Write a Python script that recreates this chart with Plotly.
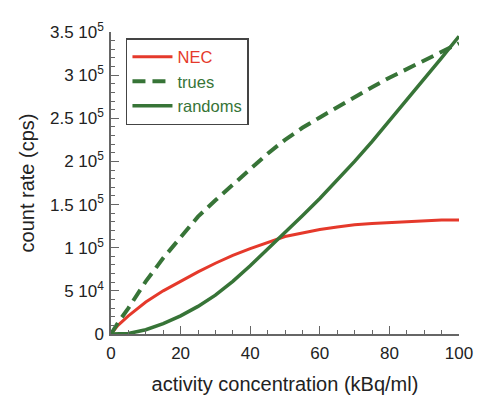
import plotly.graph_objects as go

# activity concentration (kBq/ml)
conc = [0, 2, 5, 10, 15, 20, 25, 30, 35, 40, 45, 50, 55, 60, 65, 70, 75, 80, 85, 90, 95, 100]

# count rates (cps)
nec = [0, 10000, 21000, 37000, 50000, 61000, 72000, 82000, 91000, 99000, 106000, 113000,
       117000, 121000, 124000, 126500, 128000, 129000, 130000, 131000, 132000, 132000]
trues = [0, 13000, 30000, 61000, 88000, 112000, 136000, 155000, 173000, 191000, 209000, 225000,
         239000, 251000, 263000, 275000, 286000, 297000, 307000, 316000, 326000, 337000]
randoms = [0, 0, 500, 5000, 12000, 21000, 32000, 45000, 61000, 79000, 98000, 118000,
           137000, 157000, 178000, 200000, 223000, 247000, 271000, 295000, 320000, 345000]

ytick_vals = [0, 50000, 100000, 150000, 200000, 250000, 300000, 350000]
ytick_text = ["0", "5 10<sup>4</sup>", "1 10<sup>5</sup>", "1.5 10<sup>5</sup>", "2 10<sup>5</sup>",
              "2.5 10<sup>5</sup>", "3 10<sup>5</sup>", "3.5 10<sup>5</sup>"]

RED = "#e5392b"
GREEN = "#377437"

fig = go.Figure()
fig.add_trace(go.Scatter(x=conc, y=nec, mode="lines", name=f"<span style='color:{RED}'>NEC</span>",
                         line=dict(color=RED, width=3)))
fig.add_trace(go.Scatter(x=conc, y=trues, mode="lines", name=f"<span style='color:{GREEN}'>trues</span>",
                         line=dict(color=GREEN, width=4, dash="13px,7px")))
fig.add_trace(go.Scatter(x=conc, y=randoms, mode="lines", name=f"<span style='color:{GREEN}'>randoms</span>",
                         line=dict(color=GREEN, width=3.5)))

# the page body adds ~8px, so margins are trimmed by that amount on the left/top
fig.update_layout(
    width=492, height=412,
    margin=dict(l=103, r=41, t=18, b=86),
    paper_bgcolor="white", plot_bgcolor="white",
    font=dict(family="Arial, Liberation Sans, sans-serif", size=17, color="#222"),
    showlegend=True,
    legend=dict(x=0.043, y=0.98, xanchor="left", yanchor="top",
                bgcolor="white", bordercolor="#444", borderwidth=1.5,
                font=dict(size=16.5), tracegroupgap=0, itemwidth=40),
)

fig.update_xaxes(range=[0, 100], tickvals=[0, 20, 40, 60, 80, 100],
                 showline=True, linecolor="#666", linewidth=1.5, showgrid=False, zeroline=False,
                 ticks="inside", ticklen=8, tickcolor="#666", tickwidth=1.2, ticklabelstandoff=3,
                 minor=dict(dtick=5, ticks="inside", ticklen=4, tickcolor="#666", showgrid=False),
                 title=dict(text="activity concentration (kBq/ml)", standoff=15))
fig.update_yaxes(range=[0, 350000], tickvals=ytick_vals, ticktext=ytick_text,
                 showline=True, linecolor="#666", linewidth=1.5, showgrid=False, zeroline=False,
                 ticks="inside", ticklen=8, tickcolor="#666", tickwidth=1.2, ticklabelstandoff=2,
                 minor=dict(dtick=10000, ticks="inside", ticklen=4, tickcolor="#666", showgrid=False),
                 title=dict(text="count rate (cps)", standoff=10))

fig.write_html("out.html")
